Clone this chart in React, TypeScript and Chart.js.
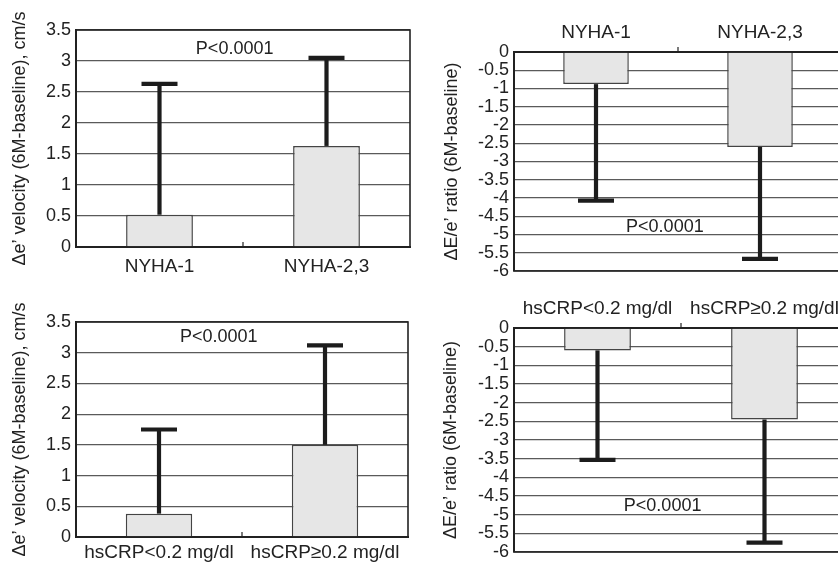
import React, { useEffect, useRef } from "react";
import { Chart, registerables } from "chart.js";

Chart.register(...registerables);

// ---------- data ----------
const nyhaLabels = ["NYHA-1", "NYHA-2,3"];
const crpLabels = ["hsCRP<0.2 mg/dl", "hsCRP\u22650.2 mg/dl"];

const velNyhaMean = [0.52, 1.63];
const velNyhaErrEnd = [2.63, 3.05];
const ratioNyhaMean = [-0.88, -2.6];
const ratioNyhaErrEnd = [-4.07, -5.67];

const velCrpMean = [0.38, 1.5];
const velCrpErrEnd = [1.75, 3.12];
const ratioCrpMean = [-0.6, -2.45];
const ratioCrpErrEnd = [-3.53, -5.75];

const velRange = [0, 3.5];
const ratioRange = [-6, 0];
const tickStep = 0.5;

const velTitle = "\u0394e\u2019 velocity (6M-baseline), cm/s";
const ratioTitle = "\u0394E/e\u2019 ratio (6M-baseline)";
const pText = "P<0.0001";

// ---------- styles ----------
const FONT = "'Liberation Sans', Arial, Helvetica, sans-serif";
const TEXT = "#222";
const GRID = "#5a5a5a";
const BAR_FILL = "#e6e6e6";
const BAR_EDGE = "#444";
const ERR = "#1c1c1c";

type PanelDef = {
  key: string;
  box: { left: number; top: number; w: number; h: number };
  area: { L: number; R: number; T: number; B: number };
  xPos: "top" | "bottom";
  labels: string[];
  mean: number[];
  err: number[];
  range: number[];
  title: string;
  titlePad: number;
  labelPad: number;
  pAt: number[];
};

const panels: PanelDef[] = [
  {
    key: "p1",
    box: { left: 0, top: 0, w: 420, h: 285 },
    area: { L: 76, R: 410, T: 30, B: 247 },
    xPos: "bottom",
    labels: nyhaLabels,
    mean: velNyhaMean,
    err: velNyhaErrEnd,
    range: velRange,
    title: velTitle,
    titlePad: 9,
    labelPad: 8,
    pAt: [0.45, 3.2],
  },
  {
    key: "p2",
    box: { left: 418, top: 0, w: 440, h: 285 },
    area: { L: 96, R: 424, T: 52, B: 272 },
    xPos: "top",
    labels: nyhaLabels,
    mean: ratioNyhaMean,
    err: ratioNyhaErrEnd,
    range: ratioRange,
    title: ratioTitle,
    titlePad: 23,
    labelPad: 8,
    pAt: [0.42, -4.8],
  },
  {
    key: "p3",
    box: { left: 0, top: 285, w: 420, h: 281 },
    area: { L: 76, R: 408, T: 37, B: 252 },
    xPos: "bottom",
    labels: crpLabels,
    mean: velCrpMean,
    err: velCrpErrEnd,
    range: velRange,
    title: velTitle,
    titlePad: 9,
    labelPad: 4,
    pAt: [0.36, 3.26],
  },
  {
    key: "p4",
    box: { left: 418, top: 285, w: 440, h: 281 },
    area: { L: 96, R: 430, T: 43, B: 268 },
    xPos: "top",
    labels: crpLabels,
    mean: ratioCrpMean,
    err: ratioCrpErrEnd,
    range: ratioRange,
    title: ratioTitle,
    titlePad: 22,
    labelPad: 8,
    pAt: [0.39, -4.76],
  },
];

const decorPlugin = {
  id: "decor",
  afterDatasetsDraw(chart: any, _args: any, opts: any) {
    const { ctx, chartArea: a, scales } = chart;
    const x = scales.x;
    const y = scales.y;
    const meta = chart.getDatasetMeta(0);
    ctx.save();
    // frame
    ctx.strokeStyle = "#222";
    ctx.lineWidth = 1.6;
    ctx.strokeRect(a.left, a.top, a.right - a.left, a.bottom - a.top);
    // error bars
    ctx.strokeStyle = ERR;
    ctx.lineWidth = 4.2;
    ctx.lineCap = "butt";
    meta.data.forEach((bar: any, i: number) => {
      const yEnd = y.getPixelForValue(opts.err[i]);
      ctx.beginPath();
      ctx.moveTo(bar.x, bar.y);
      ctx.lineTo(bar.x, yEnd);
      ctx.stroke();
      ctx.beginPath();
      ctx.moveTo(bar.x - 18, yEnd);
      ctx.lineTo(bar.x + 18, yEnd);
      ctx.stroke();
    });
    // category divider tick
    const mx = x.getPixelForValue(0.5);
    const axisY = opts.xPos === "top" ? a.top : a.bottom;
    ctx.strokeStyle = "#222";
    ctx.lineWidth = 1.2;
    ctx.beginPath();
    ctx.moveTo(mx, axisY);
    ctx.lineTo(mx, axisY - 5);
    ctx.stroke();
    // P value
    ctx.fillStyle = TEXT;
    ctx.font = `18px ${FONT}`;
    ctx.textAlign = "center";
    ctx.textBaseline = "middle";
    ctx.fillText(opts.pText, x.getPixelForValue(opts.pAt[0]), y.getPixelForValue(opts.pAt[1]));
    ctx.restore();
  },
};

function Panel({ def }: { def: PanelDef }) {
  const ref = useRef<HTMLCanvasElement | null>(null);
  useEffect(() => {
    const canvas = ref.current;
    if (!canvas) return;
    const { box, area } = def;
    const top = def.xPos === "top";
    const padding = top
      ? { left: 0, top: 0, right: box.w - area.R, bottom: box.h - area.B }
      : { left: 0, top: area.T, right: box.w - area.R, bottom: 0 };
    const chart = new Chart(canvas, {
      type: "bar",
      data: {
        labels: def.labels,
        datasets: [
          {
            data: def.mean,
            backgroundColor: BAR_FILL,
            borderColor: BAR_EDGE,
            borderWidth: 1.5,
            categoryPercentage: 1,
            barPercentage: 0.4,
          },
        ],
      },
      options: {
        responsive: false,
        animation: false,
        devicePixelRatio: 1,
        layout: { padding },
        plugins: {
          legend: { display: false },
          tooltip: { enabled: false },
          decor: { err: def.err, pText, pAt: def.pAt, xPos: def.xPos },
        } as any,
        scales: {
          x: {
            position: def.xPos,
            grid: { display: false, drawTicks: false },
            border: { display: true, color: "#222", width: 2 },
            ticks: {
              color: TEXT,
              font: { family: FONT, size: 19 },
              padding: def.labelPad,
              maxRotation: 0,
              autoSkip: false,
            },
            afterFit: (s: any) => {
              s.height = top ? area.T : box.h - area.B;
            },
          },
          y: {
            min: def.range[0],
            max: def.range[1],
            grid: { color: GRID, lineWidth: 1.2, drawTicks: false },
            border: { display: true, color: "#222", width: 2 },
            ticks: {
              stepSize: tickStep,
              autoSkip: false,
              color: TEXT,
              padding: 5,
              font: { family: FONT, size: 18, lineHeight: 1 },
              callback: (v: any) => String(Number(v)),
            },
            title: {
              display: true,
              text: def.title,
              color: TEXT,
              font: { family: FONT, size: 18 },
              padding: { top: def.titlePad, bottom: 0 },
            },
            afterFit: (s: any) => {
              s.width = area.L;
            },
          },
        },
      },
      plugins: [decorPlugin],
    } as any);
    return () => chart.destroy();
  }, [def]);
  return (
    <canvas
      ref={ref}
      width={def.box.w}
      height={def.box.h}
      style={{
        position: "absolute",
        left: def.box.left,
        top: def.box.top,
        width: def.box.w,
        height: def.box.h,
      }}
    />
  );
}

export default function App() {
  return (
    <div
      style={{
        position: "fixed",
        left: 0,
        top: 0,
        width: 838,
        height: 566,
        overflow: "hidden",
        background: "#fff",
      }}
    >
      {panels.map((p) => (
        <Panel key={p.key} def={p} />
      ))}
    </div>
  );
}
